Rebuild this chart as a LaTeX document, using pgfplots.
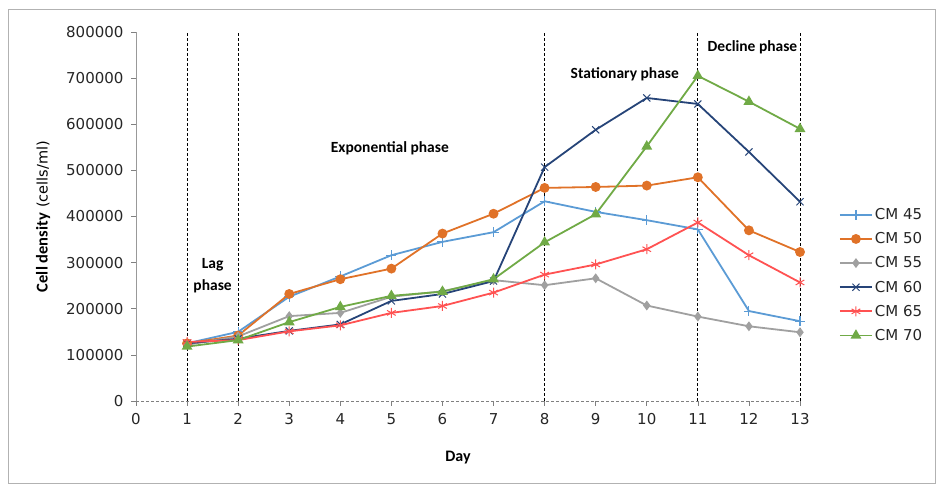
\documentclass[border=0pt]{standalone}
\usepackage{pgfplots}
\pgfplotsset{compat=1.18}
\usepackage{fontspec}
\setmainfont{DejaVu Sans}
\newfontfamily\calfont{Carlito}

\definecolor{c45}{RGB}{91,155,213}
\definecolor{c50}{RGB}{224,114,40}
\definecolor{c55}{RGB}{160,160,160}
\definecolor{c60}{RGB}{38,68,120}
\definecolor{c65}{RGB}{255,82,82}
\definecolor{c70}{RGB}{112,170,70}

\begin{document}
\begin{tikzpicture}
\useasboundingbox (0,0) rectangle (937pt,486pt);
\draw[gray!60, line width=0.8pt] (8.5pt,3pt) rectangle (935pt,477pt);
\begin{axis}[
  at={(136pt,85pt)}, anchor=south west,
  scale only axis, width=664pt, height=369pt,
  xmin=0, xmax=13, ymin=0, ymax=800000,
  clip=false,
  axis x line=bottom, axis y line=left,
  axis line style={-},
  x axis line style={gray, densely dashed, line width=0.7pt},
  y axis line style={gray!80, line width=0.8pt},
  xtick={0,...,13}, ytick={0,100000,...,800000},
  tick align=outside, major tick length=5pt,
  tick style={gray, line width=0.6pt},
  scaled y ticks=false,
  /pgf/number format/fixed,
  /pgf/number format/1000 sep={},
  /pgf/number format/assume math mode=true,
  ticklabel style={font=\fontsize{15}{18}\selectfont, text=black!85},
  yticklabel style={xshift=-4pt},
  xticklabel style={yshift=-4pt},
  xlabel={\calfont\bfseries Day},
  xlabel style={at={(axis description cs:0.485,-0.152)}, anchor=center, font=\fontsize{16}{19}\selectfont},
  ylabel={{\calfont\bfseries Cell density} \fontsize{14.5}{17}\selectfont(cells/ml)},
  ylabel style={at={(axis description cs:-0.14,0.5)}, anchor=center, font=\fontsize{16.5}{19}\selectfont},
  legend image code/.code={\draw[mark repeat=2, mark phase=2, #1] plot coordinates {(0pt,0pt) (16pt,0pt) (32pt,0pt)};},
  legend style={at={(1.054,0.533)}, anchor=north west, draw=none, fill=none,
    font=\fontsize{15}{18}\selectfont, text=black!85, row sep=7.5pt},
  legend cell align=left,
]

% phase boundaries
\addplot[black, densely dashed, line width=0.8pt, forget plot] coordinates {(1,0) (1,800000)};
\addplot[black, densely dashed, line width=0.8pt, forget plot] coordinates {(2,0) (2,800000)};
\addplot[black, densely dashed, line width=0.8pt, forget plot] coordinates {(8,0) (8,800000)};
\addplot[black, densely dashed, line width=0.8pt, forget plot] coordinates {(11,0) (11,800000)};
\addplot[black, densely dashed, line width=0.8pt, forget plot] coordinates {(13,0) (13,800000)};

\addplot[c45, line width=1.8pt, mark=+, mark size=5pt, mark options={line width=1.1pt}]
coordinates {(1,125000)(2,150000)(3,226000)(4,270000)(5,316000)(6,345000)(7,366000)(8,433000)(9,410000)(10,392000)(11,372000)(12,195000)(13,173000)};
\addlegendentry{CM 45}

\addplot[c50, line width=1.8pt, mark=*, mark size=4pt]
coordinates {(1,125000)(2,142000)(3,232000)(4,264000)(5,287000)(6,363000)(7,406000)(8,462000)(9,464000)(10,467000)(11,485000)(12,370000)(13,323000)};
\addlegendentry{CM 50}

\addplot[c55, line width=1.8pt, mark=diamond*, mark size=3.5pt]
coordinates {(1,122000)(2,140000)(3,184000)(4,191000)(5,226000)(6,238000)(7,262000)(8,251000)(9,266000)(10,207000)(11,183000)(12,162000)(13,149000)};
\addlegendentry{CM 55}

\addplot[c60, line width=1.8pt, mark=x, mark size=5pt, mark options={line width=1pt}]
coordinates {(1,125000)(2,135000)(3,152000)(4,166000)(5,217000)(6,232000)(7,260000)(8,507000)(9,588000)(10,657000)(11,644000)(12,540000)(13,432000)};
\addlegendentry{CM 60}

\addplot[c65, line width=1.8pt, mark=asterisk, mark size=5pt, mark options={line width=1pt}]
coordinates {(1,128000)(2,132000)(3,151000)(4,164000)(5,191000)(6,206000)(7,235000)(8,274000)(9,296000)(10,329000)(11,387000)(12,316000)(13,257000)};
\addlegendentry{CM 65}

\addplot[c70, line width=1.8pt, mark=triangle*, mark size=4.5pt]
coordinates {(1,118000)(2,132000)(3,171000)(4,204000)(5,228000)(6,237000)(7,264000)(8,344000)(9,405000)(10,552000)(11,705000)(12,649000)(13,590000)};
\addlegendentry{CM 70}

\node[font=\calfont\bfseries\fontsize{15.5}{18}\selectfont, align=center] at (axis cs:1.5,271000) {Lag\\[4pt]phase};
\node[font=\calfont\bfseries\fontsize{15.5}{18}\selectfont] at (axis cs:4.97,548500) {Exponential phase};
\node[font=\calfont\bfseries\fontsize{15.5}{18}\selectfont] at (axis cs:9.57,709000) {Stationary phase};
\node[font=\calfont\bfseries\fontsize{15.5}{18}\selectfont] at (axis cs:12.07,767000) {Decline phase};
\end{axis}
\end{tikzpicture}
\end{document}
